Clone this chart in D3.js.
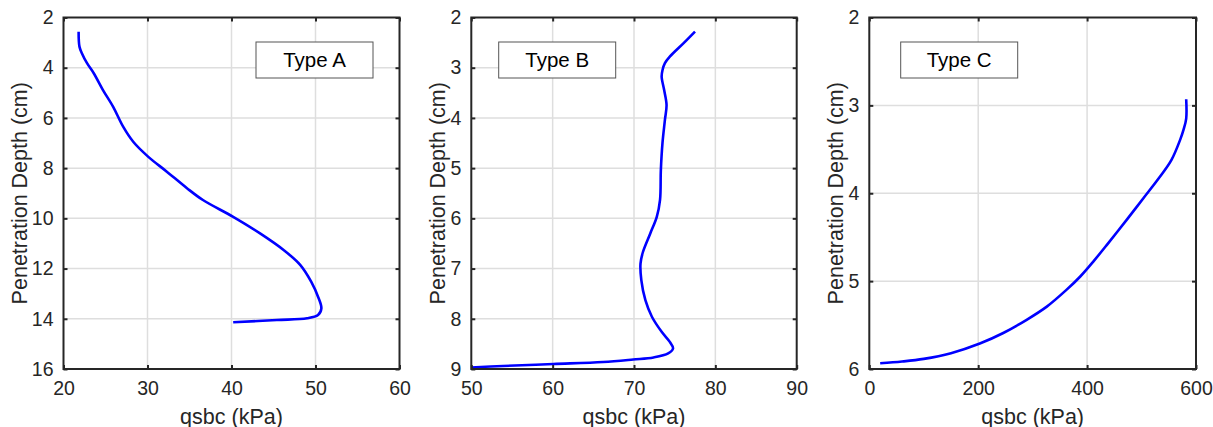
<!DOCTYPE html>
<html>
<head>
<meta charset="utf-8">
<script src="https://cdn.jsdelivr.net/npm/d3@7"></script>
<style>
  body { margin: 0; background: #fff; }
  text { font-family: Arial, "Liberation Sans", sans-serif; fill: #262626; }
</style>
</head>
<body>
<script>
// Type A : qsbc (kPa) vs depth (cm)
var typeAq = [21.8, 21.9, 22.2, 22.8, 23.6, 24.7, 25.9, 27.1, 28.3, 30.1, 32.3, 34.7, 36.6, 40.2, 43.4, 46.2, 48.2, 49.5, 50.3, 50.7, 50.3, 49.0, 45.4, 40.2];
var typeAdepth = [2.57, 3.16, 3.43, 3.82, 4.22, 4.89, 5.55, 6.35, 6.95, 7.55, 8.14, 8.8, 9.27, 9.94, 10.6, 11.26, 11.86, 12.53, 13.12, 13.59, 13.85, 13.98, 14.05, 14.14];

// Type B
var typeBq = [77.5, 76.1, 74.4, 73.8, 73.5, 73.4, 73.7, 74.0, 73.8, 73.5, 73.3, 73.2, 72.8, 72.0, 71.1, 70.8, 70.9, 71.4, 72.2, 73.4, 74.4, 74.8, 74.2, 72.4, 69.9, 66.2, 60.1, 53.9, 49.8];
var typeBdepth = [2.28, 2.51, 2.78, 2.91, 3.05, 3.18, 3.44, 3.74, 4.04, 4.5, 5.04, 5.63, 5.97, 6.3, 6.67, 6.9, 7.23, 7.63, 7.96, 8.26, 8.46, 8.59, 8.69, 8.77, 8.81, 8.86, 8.90, 8.94, 8.97];

// Type C
var typeCq = [582, 582, 577, 571, 555, 534, 503, 473, 436, 411, 387, 362, 326, 289, 246, 203, 150, 100, 60, 20];
var typeCdepth = [2.93, 3.15, 3.28, 3.39, 3.62, 3.81, 4.06, 4.30, 4.59, 4.78, 4.95, 5.10, 5.29, 5.44, 5.59, 5.71, 5.82, 5.885, 5.915, 5.935];

var xTicksA = [20, 30, 40, 50, 60];
var yTicksA = [2, 4, 6, 8, 10, 12, 14, 16];
var xTicksB = [50, 60, 70, 80, 90];
var yTicksB = [2, 3, 4, 5, 6, 7, 8, 9];
var xTicksC = [0, 200, 400, 600];
var yTicksC = [2, 3, 4, 5, 6];

var panels = [
  { name: "Type A", q: typeAq, d: typeAdepth, xt: xTicksA, yt: yTicksA,
    left: 63.5, right: 399.5, ylabX: 27, legX: 256 },
  { name: "Type B", q: typeBq, d: typeBdepth, xt: xTicksB, yt: yTicksB,
    left: 471.3, right: 796.7, ylabX: 445, legX: 498.7 },
  { name: "Type C", q: typeCq, d: typeCdepth, xt: xTicksC, yt: yTicksC,
    left: 869.3, right: 1196, ylabX: 843, legX: 900.7 }
];

var plotTop = 17.5, plotBottom = 369;

var svg = d3.select("body").append("svg")
    .attr("width", 1213)
    .attr("height", 427);

panels.forEach(function(p, i) {
  var x = d3.scaleLinear()
      .domain(d3.extent(p.xt))
      .range([p.left, p.right]);
  var y = d3.scaleLinear()
      .domain(d3.extent(p.yt))
      .range([plotTop, plotBottom]);

  var g = svg.append("g");

  // grid
  g.selectAll(".gx").data(p.xt.slice(1, -1)).enter().append("line")
      .attr("x1", d => x(d)).attr("x2", d => x(d))
      .attr("y1", plotTop).attr("y2", plotBottom)
      .style("stroke", "#dedede").style("stroke-width", 1.5);
  g.selectAll(".gy").data(p.yt.slice(1, -1)).enter().append("line")
      .attr("y1", d => y(d)).attr("y2", d => y(d))
      .attr("x1", p.left).attr("x2", p.right)
      .style("stroke", "#dedede").style("stroke-width", 1.5);

  // legend box
  g.append("rect")
      .attr("x", p.legX).attr("y", 42)
      .attr("width", 117).attr("height", 36)
      .style("fill", "#fff").style("stroke", "#555").style("stroke-width", 1);
  g.append("text")
      .attr("x", p.legX + 58.5).attr("y", 67)
      .attr("text-anchor", "middle")
      .style("font-size", "20.5px").style("fill", "#000")
      .text(p.name);

  // curve
  var clipId = "clip" + i;
  svg.append("clipPath").attr("id", clipId).append("rect")
      .attr("x", p.left).attr("y", plotTop)
      .attr("width", p.right - p.left).attr("height", plotBottom - plotTop);

  var line = d3.line()
      .x(d => x(d[0]))
      .y(d => y(d[1]))
      .curve(d3.curveCatmullRom.alpha(0.5));

  g.append("path")
      .datum(d3.zip(p.q, p.d))
      .attr("d", line)
      .attr("clip-path", "url(#" + clipId + ")")
      .style("fill", "none")
      .style("stroke", "#0000ff")
      .style("stroke-width", 2.6)
      .style("stroke-linejoin", "round");

  // axes (ticks inward, mirrored on all sides)
  var tl = 4;
  var fmt = d3.format("d");
  g.append("g").attr("transform", "translate(0," + plotBottom + ")")
      .call(d3.axisBottom(x).tickValues(p.xt).tickSize(-tl).tickPadding(12).tickFormat(fmt))
      .call(s => s.select(".domain").remove());
  g.append("g").attr("transform", "translate(0," + plotTop + ")")
      .call(d3.axisTop(x).tickValues(p.xt).tickSize(-tl).tickFormat(""))
      .call(s => s.select(".domain").remove());
  g.append("g").attr("transform", "translate(" + p.left + ",0)")
      .call(d3.axisLeft(y).tickValues(p.yt).tickSize(-tl).tickPadding(10).tickFormat(fmt))
      .call(s => s.select(".domain").remove());
  g.append("g").attr("transform", "translate(" + p.right + ",0)")
      .call(d3.axisRight(y).tickValues(p.yt).tickSize(-tl).tickFormat(""))
      .call(s => s.select(".domain").remove());

  g.selectAll(".tick line").style("stroke", "#262626").style("stroke-width", 2);
  g.selectAll(".tick text")
      .style("font-size", "19.5px")
      .style("font-family", "Arial, 'Liberation Sans', sans-serif")
      .style("fill", "#262626");

  g.append("rect")
      .attr("x", p.left).attr("y", plotTop)
      .attr("width", p.right - p.left).attr("height", plotBottom - plotTop)
      .style("fill", "none").style("stroke", "#262626").style("stroke-width", 2);

  // axis labels
  g.append("text")
      .attr("x", (p.left + p.right) / 2).attr("y", 424)
      .attr("text-anchor", "middle")
      .style("font-size", "21.5px")
      .text("qsbc (kPa)");
  g.append("text")
      .attr("transform", "translate(" + p.ylabX + "," + (plotTop + plotBottom) / 2 + ") rotate(-90)")
      .attr("text-anchor", "middle")
      .style("font-size", "21.5px")
      .text("Penetration Depth (cm)");
});
</script>
</body>
</html>
